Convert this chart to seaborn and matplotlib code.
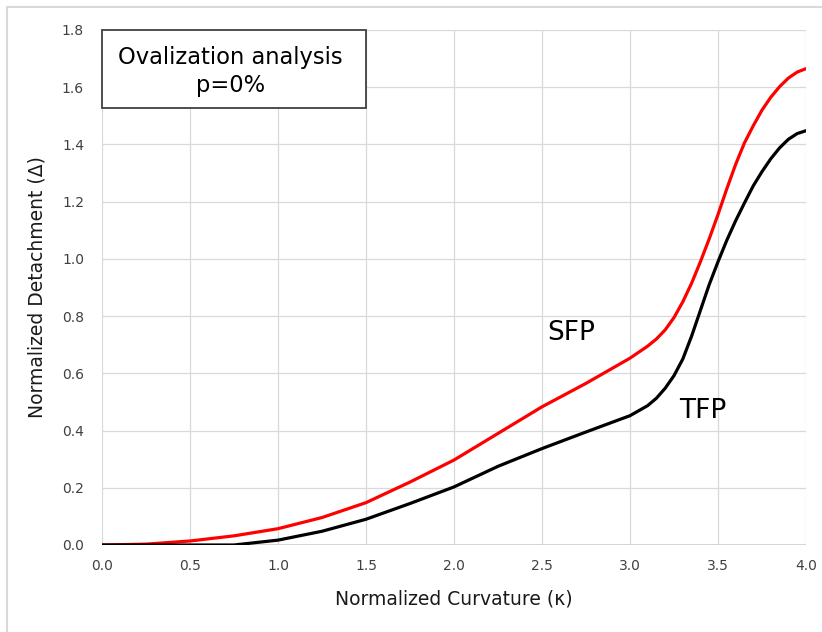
import matplotlib
matplotlib.use("Agg")
import matplotlib.pyplot as plt
import numpy as np
import pandas as pd
import seaborn as sns
from matplotlib.patches import Rectangle

# values
kappa_sfp = [0.0, 0.25, 0.5, 0.75, 1.0, 1.25, 1.5, 1.75, 2.0, 2.25, 2.5, 2.75, 3.0, 3.1, 3.15, 3.2,
             3.25, 3.3, 3.35, 3.4, 3.45, 3.5, 3.55, 3.6, 3.65, 3.7, 3.75, 3.8, 3.85, 3.9, 3.95, 4.0]
delta_sfp = [0.0, 0.003, 0.014, 0.032, 0.057, 0.096, 0.148, 0.22, 0.297, 0.39, 0.483, 0.565, 0.653, 0.695, 0.72, 0.752,
             0.795, 0.85, 0.915, 0.99, 1.07, 1.155, 1.245, 1.33, 1.405, 1.465, 1.52, 1.565, 1.602, 1.632, 1.653, 1.665]

kappa_tfp = [0.0, 0.25, 0.5, 0.75, 1.0, 1.25, 1.5, 1.75, 2.0, 2.25, 2.5, 2.75, 3.0, 3.1, 3.15, 3.2,
             3.25, 3.3, 3.35, 3.4, 3.45, 3.5, 3.55, 3.6, 3.65, 3.7, 3.75, 3.8, 3.85, 3.9, 3.95, 4.0]
delta_tfp = [0.0, 0.0, 0.0, 0.0, 0.017, 0.048, 0.09, 0.145, 0.203, 0.275, 0.337, 0.395, 0.452, 0.487, 0.513, 0.548,
             0.592, 0.65, 0.73, 0.82, 0.91, 0.99, 1.065, 1.133, 1.195, 1.255, 1.305, 1.35, 1.388, 1.418, 1.438, 1.448]

x_ticks = [0.0, 0.5, 1.0, 1.5, 2.0, 2.5, 3.0, 3.5, 4.0]
y_ticks = [0.0, 0.2, 0.4, 0.6, 0.8, 1.0, 1.2, 1.4, 1.6, 1.8]

df = pd.concat([
    pd.DataFrame({"kappa": kappa_sfp, "delta": delta_sfp, "series": "SFP"}),
    pd.DataFrame({"kappa": kappa_tfp, "delta": delta_tfp, "series": "TFP"}),
])

sns.set_theme(style="whitegrid")
plt.rcParams["font.family"] = ["DejaVu Sans"]

fig = plt.figure(figsize=(8.22, 6.32), dpi=100)
ax = fig.add_axes([102 / 822, 1 - 545 / 632, (806 - 102) / 822, (545 - 30) / 632])

sns.lineplot(data=df, x="kappa", y="delta", hue="series",
             palette={"SFP": "#ff0000", "TFP": "#000000"},
             linewidth=2.3, legend=False, ax=ax, zorder=3)
for ln in ax.get_lines():
    ln.set_solid_joinstyle("round")
    ln.set_solid_capstyle("round")

ax.set_xlim(0, 4)
ax.set_ylim(0, 1.8)
ax.set_xticks(x_ticks)
ax.set_yticks(y_ticks)
ax.set_xticklabels([f"{v:.1f}" for v in x_ticks])
ax.set_yticklabels([f"{v:.1f}" for v in y_ticks])
ax.grid(True, color="#d9d9d9", linewidth=0.9)
for s in ax.spines.values():
    s.set_visible(False)
ax.axhline(0, color="#cfcfcf", linewidth=1.2, zorder=2)
ax.tick_params(axis="both", length=0, labelsize=10, colors="#404040")
ax.tick_params(axis="x", pad=10)
ax.tick_params(axis="y", pad=13)

ax.set_xlabel("Normalized Curvature (κ)", fontsize=13.5, color="#1a1a1a", labelpad=12)
ax.set_ylabel("Normalized Detachment (Δ)", fontsize=13.5, color="#1a1a1a", labelpad=11)

# title box
ax.add_patch(Rectangle((0.0, 1.527), 1.5, 0.273, fill=True, facecolor="white",
                       edgecolor="#404040", linewidth=1.3, zorder=4, clip_on=False))
ax.text(0.73, 1.703, "Ovalization analysis", ha="center", va="center", fontsize=16.3,
        color="black", zorder=5)
ax.text(0.73, 1.605, "p=0%", ha="center", va="center", fontsize=16.3, color="black", zorder=5)

ax.text(2.53, 0.74, "SFP", ha="left", va="center", fontsize=19, color="black", zorder=5)
ax.text(3.28, 0.47, "TFP", ha="left", va="center", fontsize=19, color="black", zorder=5)

# outer chart border
fig.add_artist(Rectangle((7 / 822, -0.5), 2.0, 1.5 - 7 / 632, transform=fig.transFigure,
                         fill=False, edgecolor="#d9d9d9", linewidth=1.5))

fig.savefig("out.png", dpi=100)
